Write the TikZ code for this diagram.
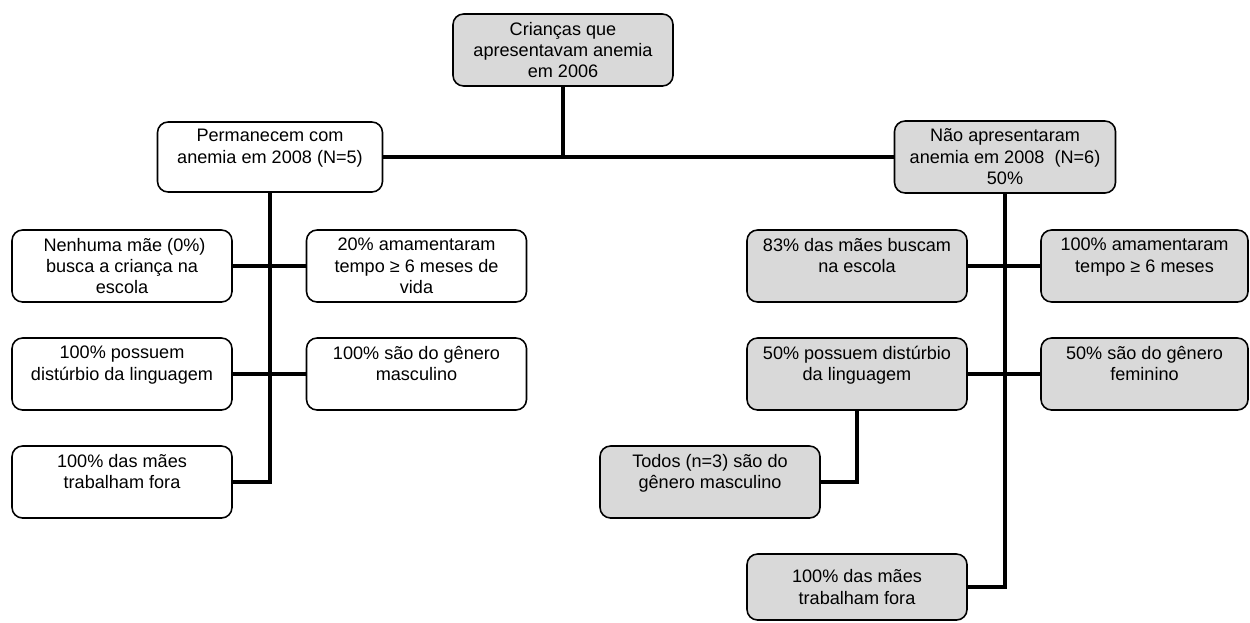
\documentclass[tikz,border=0pt]{standalone}
\usepackage{fontspec}
\setmainfont{Liberation Sans}
\usepackage{tikz}

\begin{document}
\begin{tikzpicture}
\tikzstyle{box}=[draw,line width=0.9pt,rounded corners=6pt,align=center,minimum width=4.4cm,minimum height=1.44cm,inner sep=1pt,font=\fontsize{10.3}{12.2}\selectfont]
\tikzstyle{grey}=[box,fill=black!15]
\tikzstyle{line}=[line width=2.8pt]
\useasboundingbox (0,0) rectangle (25,-12.44);
\node[grey] (TOP) at (11.26,-1.00) {Crianças que\\apresentavam anemia\\em 2006};
\node[box,minimum width=4.5cm,minimum height=1.4cm] (L1) at (5.40,-3.14) {Permanecem com\\anemia em 2008 (N=5)\\\mbox{}};
\node[grey,minimum width=4.42cm] (R1) at (20.10,-3.14) {Não apresentaram\\anemia em 2008~~(N=6)\\50\%};
\node[box] (L2) at (2.44,-5.32) {\ Nenhuma mãe (0\%)\\busca a criança na\\escola};
\node[box] (L3) at (8.33,-5.32) {20\% amamentaram\\tempo ≥ 6 meses de\\vida};
\node[box] (L4) at (2.44,-7.48) {100\% possuem\\distúrbio da linguagem\\\mbox{}};
\node[box] (L5) at (8.33,-7.48) {100\% são do gênero\\masculino\\\mbox{}};
\node[box] (L6) at (2.44,-9.64) {100\% das mães\\trabalham fora\\\mbox{}};
\node[grey] (R2) at (17.14,-5.32) {83\% das mães buscam\\na escola\\\mbox{}};
\node[grey,minimum width=4.14cm] (R3) at (22.89,-5.32) {100\% amamentaram\\tempo ≥ 6 meses\\\mbox{}};
\node[grey] (R4) at (17.14,-7.48) {50\% possuem distúrbio\\da linguagem\\\mbox{}};
\node[grey,minimum width=4.14cm] (R5) at (22.89,-7.48) {50\% são do gênero\\feminino\\\mbox{}};
\node[grey] (R6) at (14.20,-9.64) {Todos (n=3) são do\\gênero masculino\\\mbox{}};
\node[grey,minimum height=1.32cm] (R7) at (17.14,-11.74) {100\% das mães\\trabalham fora};
\draw[line] (TOP.south) -- (TOP.south |- L1.east);
\draw[line] (L1.east) -- (R1.west);
\draw[line] (L1.south) |- (L6.east);
\draw[line] (L2.east) -- (L3.west);
\draw[line] (L4.east) -- (L5.west);
\draw[line] (R1.south) |- (R7.east);
\draw[line] (R2.east) -- (R3.west);
\draw[line] (R4.east) -- (R5.west);
\draw[line] (R4.south) |- (R6.east);
\end{tikzpicture}
\end{document}
